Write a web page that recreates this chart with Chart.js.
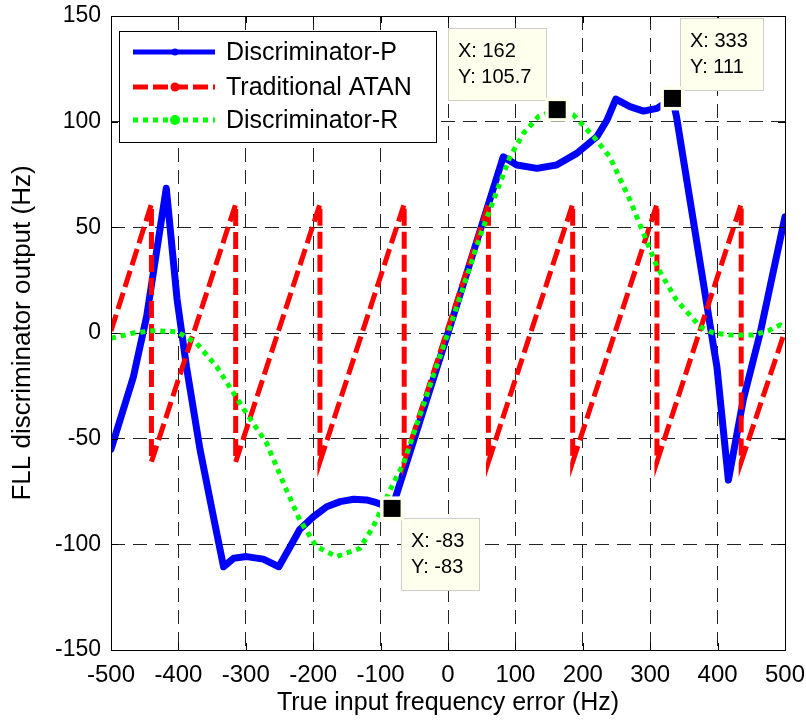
<!DOCTYPE html>
<html>
<head>
<meta charset="utf-8">
<script src="https://cdn.jsdelivr.net/npm/chart.js@4.4.1/dist/chart.umd.min.js"></script>
<style>
html, body { margin: 0; padding: 0; background: #fff; }
#wrap { width: 806px; height: 722px; }
</style>
</head>
<body>
<div id="wrap"><canvas id="myChart" width="806" height="722"></canvas></div>
<script>
// Discriminator-P (blue)
var pX = [-500, -467, -447, -418, -402, -388, -368, -348, -333, -318, -299, -274, -251, -234, -220, -200, -180, -160, -140, -121, -106, -83,
    0, 82, 102, 132, 161, 191, 221, 236, 249, 270, 290, 310, 333, 339, 359, 379, 394, 399, 416, 438, 463, 500];
var pY = [-55, -21, 8, 68.5, 16, -16, -55, -87, -110.6, -106.6, -105.8, -107, -110.6, -101, -93, -87, -82.2, -79.8, -78.7, -79, -80.3, -83,
    0, 83.4, 79.5, 77.9, 79.5, 85, 92.9, 100.8, 110.7, 107.1, 105, 106.3, 111, 102.4, 63, 23.5, -6.5, -16, -69.6, -31.7, -0.2, 55];
// Traditional ATAN (red)
var aX = [-500, -440, -440, -315, -315, -190, -190, -65, -65, 60, 60, 185, 185, 310, 310, 435, 435, 500];
var aY = [1, 61, -61, 61, -61, 61, -61, 61, -61, 61, -61, 61, -61, 61, -61, 61, -61, 1];
// Discriminator-R (green)
var rX = [-500, -467, -437, -402, -373, -343, -318, -299, -269, -244, -220, -195, -165, -131, -111, -86, -66,
    0, 50, 70, 92, 112, 134, 162, 186, 216, 240, 270, 290, 310, 339, 374, 394, 420, 452, 475, 493, 500];
var rY = [-2.5, 0, 1.1, 0.6, -4.9, -16, -28.5, -38, -52.2, -71.1, -88.5, -101.1, -105.8, -101.9, -91.7, -74.3, -61.7,
    0, 48, 65, 83.4, 94.5, 102.4, 105.7, 103.2, 92.9, 83.4, 62.9, 47.2, 31.4, 15.6, 3, 0, -1, -1, 1, 3.8, 2.5];

var seriesNames = ["Discriminator-P", "Traditional ATAN", "Discriminator-R"];
var seriesColors = ["#0000ff", "#ff0000", "#00ff00"];

// data tips
var tipX = [-83, 162, 333];
var tipY = [-83, 105.7, 111];
var tipSide = ["br", "tl", "tr"];

var FONT = '"Liberation Sans", Arial, Helvetica, sans-serif';
Chart.defaults.font.family = FONT;
Chart.defaults.color = "#000";

function toPoints(xs, ys){
    return xs.map(function (x, i){ return {x: x, y: ys[i]}; });
}

var matlabPlugin = {
    id: "matlabAxes",
    afterDatasetsDraw: function (chart){
        var ctx = chart.ctx;
        var a = chart.chartArea;
        var xs = chart.scales.x, ys = chart.scales.y;
        ctx.save();
        // box + inward ticks
        ctx.strokeStyle = "#000";
        ctx.lineWidth = 1;
        ctx.setLineDash([]);
        ctx.strokeRect(Math.round(a.left) + 0.5, Math.round(a.top) + 0.5, Math.round(a.right - a.left), Math.round(a.bottom - a.top));
        ctx.beginPath();
        xs.ticks.forEach(function (t){
            var px = Math.round(xs.getPixelForValue(t.value)) + 0.5;
            ctx.moveTo(px, a.bottom); ctx.lineTo(px, a.bottom - 7);
            ctx.moveTo(px, a.top); ctx.lineTo(px, a.top + 7);
        });
        ys.ticks.forEach(function (t){
            var py = Math.round(ys.getPixelForValue(t.value)) + 0.5;
            ctx.moveTo(a.left, py); ctx.lineTo(a.left + 7, py);
            ctx.moveTo(a.right, py); ctx.lineTo(a.right - 7, py);
        });
        ctx.stroke();

        // legend
        var lx = a.left + 8, ly = a.top + 15, lw = 317, lh = 111;
        ctx.fillStyle = "#fff";
        ctx.fillRect(lx, ly, lw, lh);
        ctx.strokeRect(Math.round(lx) + 0.5, Math.round(ly) + 0.5, lw, lh);
        var dashes = [[], [15, 5], [5, 5]];
        var dotR = [3.5, 4.5, 5];
        var rowY = [21, 56, 89];
        ctx.font = "25px " + FONT;
        ctx.textBaseline = "middle";
        ctx.textAlign = "left";
        for (var i = 0; i < 3; i++){
            var yy = ly + rowY[i];
            ctx.strokeStyle = seriesColors[i];
            ctx.lineWidth = 5;
            ctx.setLineDash(dashes[i]);
            ctx.beginPath();
            ctx.moveTo(lx + 14, yy); ctx.lineTo(lx + 96, yy);
            ctx.stroke();
            ctx.setLineDash([]);
            ctx.fillStyle = seriesColors[i];
            ctx.beginPath();
            ctx.arc(lx + 56, yy, dotR[i], 0, Math.PI * 2);
            ctx.fill();
            ctx.fillStyle = "#000";
            ctx.fillText(seriesNames[i], lx + 107, yy + 1);
        }

        // data tips
        ctx.font = "20px " + FONT;
        for (var k = 0; k < tipX.length; k++){
            var mx = xs.getPixelForValue(tipX[k]);
            var my = ys.getPixelForValue(tipY[k]);
            var lines = ["X: " + tipX[k], "Y: " + tipY[k]];
            var w = Math.max(ctx.measureText(lines[0]).width, ctx.measureText(lines[1]).width) + 25;
            var h = 72;
            var bx, by;
            if (tipSide[k] === "br"){ bx = mx + 9; by = my + 10; }
            else if (tipSide[k] === "tl"){ bx = mx - 11 - w; by = my - 10 - h; }
            else { bx = mx + 8; by = my - 8 - h; }
            bx = Math.round(bx); by = Math.round(by);
            ctx.fillStyle = "#ffffee";
            ctx.fillRect(bx, by, w, h);
            ctx.strokeStyle = "#cfcfc8";
            ctx.lineWidth = 1;
            ctx.strokeRect(bx + 0.5, by + 0.5, Math.round(w), h);
            ctx.fillStyle = "#000";
            ctx.fillText(lines[0], bx + 10, by + 23);
            ctx.fillText(lines[1], bx + 10, by + 49);
            ctx.fillStyle = "#ffffee";
            ctx.fillRect(mx - 12, my - 12, 24, 24);
            ctx.fillStyle = "#000";
            ctx.fillRect(mx - 8.5, my - 8.5, 17, 17);
        }
        ctx.restore();
    }
};

new Chart("myChart", {
    type: "line",
    data: {
        datasets: [{
            label: seriesNames[0],
            data: toPoints(pX, pY),
            borderColor: seriesColors[0],
            borderWidth: 7,
            borderJoinStyle: "round",
            borderCapStyle: "round",
            pointRadius: 0,
            tension: 0,
            order: 3
        }, {
            label: seriesNames[1],
            data: toPoints(aX, aY),
            borderColor: seriesColors[1],
            borderWidth: 5,
            borderDash: [17, 6],
            pointRadius: 0,
            tension: 0,
            order: 2
        }, {
            label: seriesNames[2],
            data: toPoints(rX, rY),
            borderColor: seriesColors[2],
            borderWidth: 5,
            borderDash: [5, 5],
            pointRadius: 0,
            tension: 0,
            order: 1
        }]
    },
    options: {
        responsive: false,
        animation: false,
        events: [],
        layout: {
            padding: {left: 0, top: 16, right: 21, bottom: 0}
        },
        plugins: {
            legend: {display: false},
            tooltip: {enabled: false}
        },
        scales: {
            x: {
                type: "linear",
                min: -500,
                max: 500,
                afterFit: function (s){
                    s.height = 72;
                    s.paddingLeft = 0;
                    s.paddingRight = 0;
                },
                ticks: {stepSize: 100, autoSkip: false, maxRotation: 0, padding: 11, font: {size: 24}, color: "#000"},
                grid: {color: "#222", lineWidth: 1, drawTicks: false},
                border: {display: false, dash: [14, 8]},
                title: {display: true, text: "True input frequency error (Hz)", font: {size: 25}, color: "#000", padding: {top: 0, bottom: 4}}
            },
            y: {
                type: "linear",
                min: -150,
                max: 150,
                afterFit: function (s){
                    s.width = 111;
                    s.paddingTop = 0;
                    s.paddingBottom = 0;
                },
                ticks: {stepSize: 50, padding: 10, font: {size: 23}, color: "#000"},
                grid: {color: "#222", lineWidth: 1, drawTicks: false},
                border: {display: false, dash: [14, 8]},
                title: {display: true, text: "FLL discriminator output (Hz)", font: {size: 26}, color: "#000", padding: {top: 7, bottom: 0}}
            }
        }
    },
    plugins: [matlabPlugin]
});
</script>
</body>
</html>
